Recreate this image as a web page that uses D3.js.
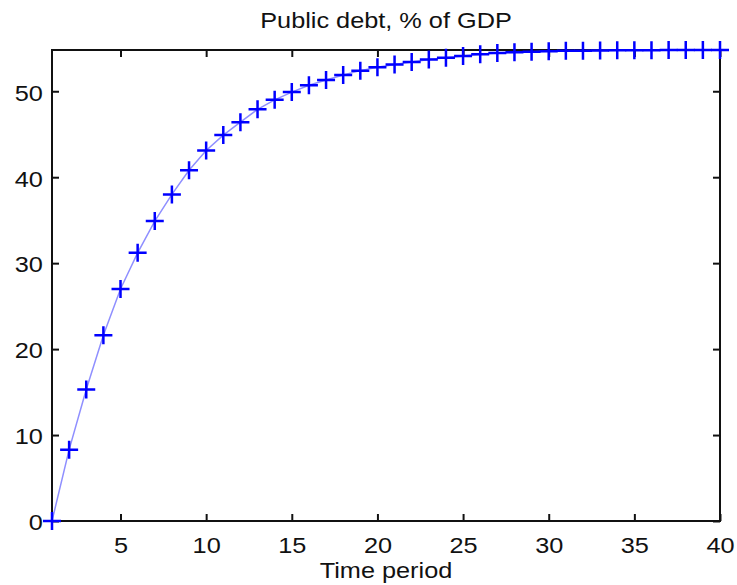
<!DOCTYPE html>
<html>
<head>
<meta charset="utf-8">
<script src="https://cdn.jsdelivr.net/npm/d3@7"></script>
<style>
  body { margin: 0; background: #fff; }
  #chart { width: 737px; height: 585px; }
</style>
</head>
<body>
<div id="chart"></div>
<script>
// Data
const periods = d3.range(1, 41);
const debt = [0, 8.3, 15.3, 21.6, 27.0, 31.2, 34.9, 38.0, 40.8, 43.1,
              44.9, 46.4, 47.9, 49.0, 49.9, 50.7, 51.3, 51.9, 52.4, 52.8,
              53.1, 53.4, 53.7, 53.9, 54.1, 54.3, 54.45, 54.55, 54.6, 54.65,
              54.7, 54.72, 54.74, 54.76, 54.77, 54.78, 54.79, 54.8, 54.8, 54.8];
const xTicks = [5, 10, 15, 20, 25, 30, 35, 40];
const yTicks = [0, 10, 20, 30, 40, 50];
const title = "Public debt, % of GDP";
const xLabel = "Time period";

const width = 737, height = 585;
const margin = { top: 50, right: 17, bottom: 64, left: 52 };
const font = "'Liberation Sans', Arial, sans-serif";
const stretch = 1.15; // text in the picture is a bit wide

const svg = d3.select("#chart")
    .append("svg")
    .attr("width", width)
    .attr("height", height);

const x = d3.scaleLinear()
    .domain([1, 40])
    .range([margin.left, width - margin.right]);

const y = d3.scaleLinear()
    .domain([0, d3.max(debt)])
    .range([height - margin.bottom, margin.top]);

const data = periods.map((t, i) => ({ t: t, v: debt[i] }));

// ticks inside on all four sides (box)
function styleAxis(g) {
    g.select(".domain").remove();
    g.selectAll(".tick line").attr("stroke", "#111").attr("stroke-width", 2);
    g.selectAll(".tick text")
        .style("font-family", font)
        .style("font-size", "22px")
        .attr("fill", "#111");
}

svg.append("g")
    .attr("transform", `translate(0,${y(0)})`)
    .call(d3.axisBottom(x).tickValues(xTicks).tickSize(-7).tickPadding(16))
    .call(styleAxis)
    .call(g => g.selectAll(".tick text").attr("dy", "0.71em").attr("transform", `scale(${stretch},1)`));

svg.append("g")
    .attr("transform", `translate(0,${y.range()[1]})`)
    .call(d3.axisTop(x).tickValues(xTicks).tickSize(-7).tickFormat(""))
    .call(styleAxis);

svg.append("g")
    .attr("transform", `translate(${x(1)},0)`)
    .call(d3.axisLeft(y).tickValues(yTicks).tickSize(-7).tickPadding(8))
    .call(styleAxis)
    .call(g => g.selectAll(".tick text").attr("dy", "0.4em").attr("transform", `scale(${stretch},1)`));

svg.append("g")
    .attr("transform", `translate(${x(40)},0)`)
    .call(d3.axisRight(y).tickValues(yTicks).tickSize(-7).tickFormat(""))
    .call(styleAxis);

// box
svg.append("rect")
    .attr("x", x(1))
    .attr("y", y.range()[1])
    .attr("width", x(40) - x(1))
    .attr("height", y(0) - y.range()[1])
    .attr("fill", "none")
    .attr("stroke", "#111")
    .attr("stroke-width", 2);

// line
svg.append("path")
    .datum(data)
    .attr("fill", "none")
    .attr("stroke", "#8f8fff")
    .attr("stroke-width", 1.5)
    .attr("d", d3.line().x(d => x(d.t)).y(d => y(d.v)));

// plus markers
svg.append("g")
    .selectAll("path")
    .data(data)
    .enter()
    .append("path")
    .attr("transform", d => `translate(${x(d.t)},${y(d.v)})`)
    .attr("d", "M-9,0H9M0,-9V9")
    .attr("stroke", "#0000ff")
    .attr("stroke-width", 2.5)
    .attr("fill", "none");

// title and axis label
const midX = (x(1) + x(40)) / 2;
svg.append("text")
    .attr("transform", `translate(${midX},28) scale(${stretch},1)`)
    .attr("text-anchor", "middle")
    .style("font-family", font)
    .style("font-size", "22px")
    .attr("fill", "#111")
    .text(title);

svg.append("text")
    .attr("transform", `translate(${midX},578) scale(${stretch},1)`)
    .attr("text-anchor", "middle")
    .style("font-family", font)
    .style("font-size", "22px")
    .attr("fill", "#111")
    .text(xLabel);
</script>
</body>
</html>
